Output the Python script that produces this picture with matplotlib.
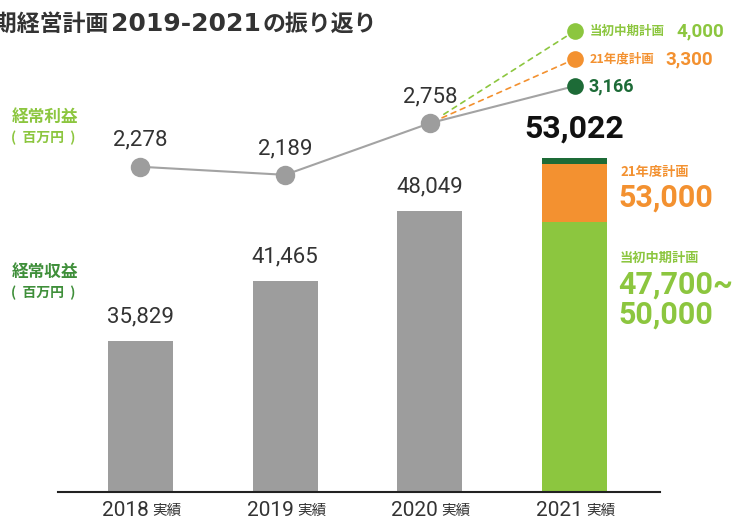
import matplotlib
matplotlib.use('Agg')
import matplotlib.pyplot as plt
from matplotlib.text import OffsetFrom
from matplotlib.transforms import ScaledTranslation

# data
years = ['2018', '2019', '2020', '2021']
revenue = [35829, 41465, 48049, 53022]      # 経常収益 (百万円)
profit = [2278, 2189, 2758, 3166]           # 経常利益 (百万円)
# how the 2021 bar is split in the picture
rev_2021_mid_part = 47000
rev_2021_year_part = 52400
rev_plan_year = 53000
rev_plan_mid = (47700, 50000)
profit_plan_names = ['21年度計画', '当初中期計画']
profit_plan_values = [3300, 4000]

GRAY = '#9d9d9d'
LINE_GRAY = '#a3a3a3'
LGREEN = '#8cc63f'
ORANGE = '#f39130'
DGREEN = '#1d6b37'
MGREEN = '#3f8f3a'
TXT = '#333333'
JP = ['Noto Sans CJK JP', 'DejaVu Sans']
NUM = ['Roboto', 'Noto Sans CJK JP', 'DejaVu Sans']

W, H = 745, 525
fig = plt.figure(figsize=(W / 100, H / 100), dpi=100)


def px(x, y):
    return x / W, 1 - y / H


ax = fig.add_axes([58 / W, 33 / H, 602 / W, 492 / H])
ax2 = ax.twinx()

x = list(range(len(years)))
bw = 0.45

# bars
ax.bar(x[:3], revenue[:3], width=bw, color=GRAY, zorder=2)
ax.bar(x[3], rev_2021_mid_part, width=bw, color=LGREEN, zorder=2)
ax.bar(x[3], rev_2021_year_part - rev_2021_mid_part, bottom=rev_2021_mid_part,
       width=bw, color=ORANGE, zorder=2)
ax.bar(x[3], revenue[3] - rev_2021_year_part, bottom=rev_2021_year_part,
       width=bw, color=DGREEN, zorder=2)
ax.set_xlim(-0.57, 3.59)
ax.set_ylim(21600, 67870)

for i, v in enumerate(revenue[:3]):
    ax.annotate(f'{v:,}', (i, v), xytext=(0, 17), textcoords='offset points',
                ha='center', va='center', fontsize=16, color=TXT, family=NUM)
ax.annotate(f'{revenue[3]:,}', (3, revenue[3]), xytext=(0, 21), textcoords='offset points',
            ha='center', va='center', fontsize=23, fontweight='bold', color='#111111', family=NUM)

# profit line
ax2.set_ylim(-1303, 4114)
ax2.plot(x, profit, color=LINE_GRAY, lw=1.5, zorder=3)
ax2.plot(x[:3], profit[:3], 'o', color=GRAY, ms=14, mec='none', zorder=4)
ax2.plot(x[3], profit[3], 'o', color=DGREEN, ms=12, mec='none', zorder=5)
for i, v in enumerate(profit[:3]):
    ax2.annotate(f'{v:,}', (i, v), xytext=(0, 19), textcoords='offset points',
                 ha='center', va='center', fontsize=16, color=TXT, family=NUM)
ax2.annotate(f'{profit[3]:,}', (3, profit[3]), xytext=(10, 0), textcoords='offset points',
             ha='left', va='center', fontsize=13, fontweight='bold', color=DGREEN, family=NUM)

# plan callouts stacked above the 2021 actual point
offsets = [27, 55]   # px above the actual point
colors = [ORANGE, LGREEN]
for name, val, off, c in zip(profit_plan_names, profit_plan_values, offsets, colors):
    shift = ScaledTranslation(0, off / 100, fig.dpi_scale_trans)
    ax2.plot(x[3], profit[3], 'o', color=c, ms=12, mec='none', zorder=5,
             transform=ax2.transData + shift)
    ax2.annotate('', xy=(x[2], profit[2]), xytext=(0, off * 0.72),
                 textcoords=OffsetFrom(ax2.transData, (x[3], profit[3]), unit='points'),
                 arrowprops=dict(arrowstyle='-', color=c, lw=1.2, linestyle=(0, (3, 3)),
                                 shrinkA=0, shrinkB=9))
    lab = ax2.annotate(name, (x[3], profit[3]), xytext=(11, off * 0.72),
                       textcoords='offset points', ha='left', va='center',
                       fontsize=9, fontweight='bold', color=c, family=JP)
    ax2.annotate(f'{val:,}', (1, 0.5), xycoords=lab, xytext=(8, 0),
                 textcoords='offset points', ha='left', va='center',
                 fontsize=13.5, fontweight='bold', color=c, family=NUM)

# axes cosmetics
for a in (ax, ax2):
    for s in ('left', 'right', 'top'):
        a.spines[s].set_visible(False)
    a.set_yticks([])
ax2.spines['bottom'].set_visible(False)
ax.spines['bottom'].set_color('#222222')
ax.spines['bottom'].set_linewidth(1.5)
ax.set_xticks(x)
ax.set_xticklabels([])
ax.tick_params(axis='x', length=0)

# x labels: year + 実績
for i, y in enumerate(years):
    ax.annotate(y, (i, 0), xycoords=('data', 'axes fraction'), xytext=(6, -13),
                textcoords='offset points', ha='right', va='center',
                fontsize=15, color=TXT, family=NUM)
    ax.annotate('実績', (i, 0), xycoords=('data', 'axes fraction'), xytext=(8.5, -13.5),
                textcoords='offset points', ha='left', va='center',
                fontsize=10.5, color=TXT, family=JP)

# 2021 bar side labels
fig.text(*px(620, 172), '21年度計画', fontsize=9.5, fontweight='bold', color=ORANGE,
         family=JP, ha='left', va='center')
fig.text(*px(618, 198), f'{rev_plan_year:,}', fontsize=22, fontweight='bold', color=ORANGE,
         family=NUM, ha='left', va='center')
fig.text(*px(620, 258), '当初中期計画', fontsize=9.5, fontweight='bold', color=LGREEN,
         family=JP, ha='left', va='center')
fig.text(*px(618, 300), f'{rev_plan_mid[0]:,}~\n{rev_plan_mid[1]:,}', fontsize=22,
         fontweight='bold', color=LGREEN, family=NUM, ha='left', va='center',
         linespacing=1.0)

# series titles on the left
for yy, name, c in [(117, '経常利益', LGREEN), (272, '経常収益', MGREEN)]:
    fig.text(*px(12, yy), name, fontsize=12, fontweight='bold', color=c,
             family=JP, ha='left', va='center')
    fig.text(*px(11, yy + 21), '(  百万円  )', fontsize=10, fontweight='bold', color=c,
             family=JP, ha='left', va='center')

# title (cut at the left edge like the source), digits set wider
t1 = fig.text(*px(-29, 24), '中期経営計画', fontsize=16.5, fontweight='bold',
              color=TXT, family=JP, ha='left', va='center')
t2 = ax2.annotate('2019-2021', (1, 0.5), xycoords=t1, xytext=(3, 0),
                  textcoords='offset pixels', ha='left', va='center', fontsize=18,
                  fontweight='bold', color=TXT, family=['DejaVu Sans'],
                  annotation_clip=False)
ax2.annotate('の振り返り', (1, 0.5), xycoords=t2, xytext=(1, 0),
             textcoords='offset pixels', ha='left', va='center', fontsize=16.5,
             fontweight='bold', color=TXT, family=JP, annotation_clip=False)

fig.savefig('out.png', dpi=100)
